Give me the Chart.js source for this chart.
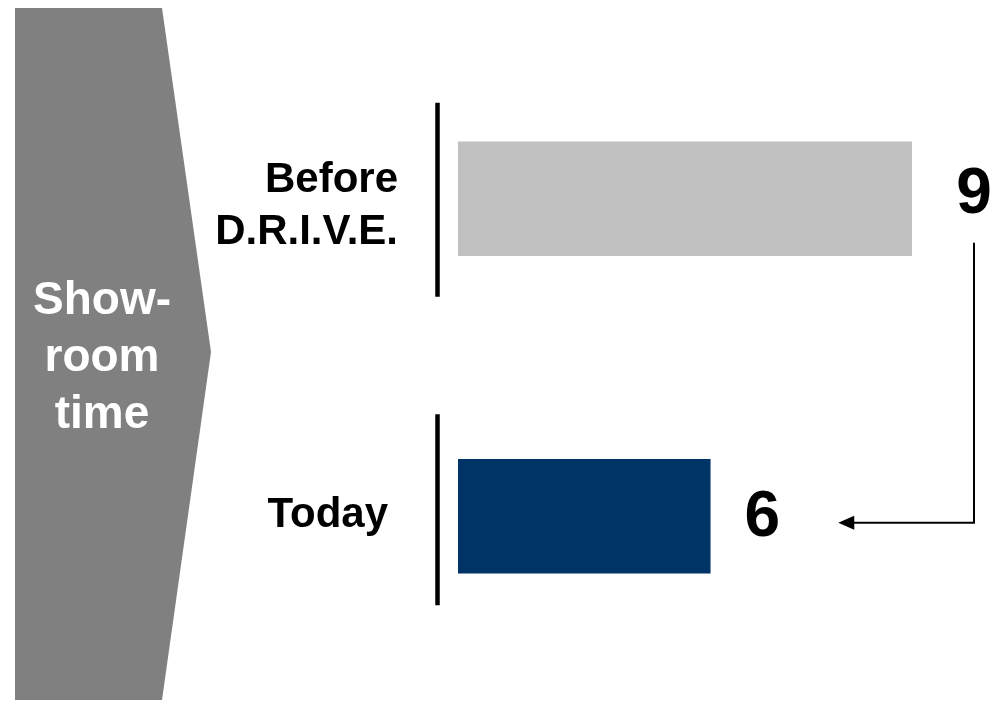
<!DOCTYPE html>
<html>
<head>
<meta charset="utf-8">
<script src="https://cdn.jsdelivr.net/npm/chart.js@4/dist/chart.umd.min.js"></script>
<style>
  html, body { margin: 0; padding: 0; background: #ffffff; }
  #wrap { width: 994px; height: 701px; }
</style>
</head>
<body>
<div id="wrap"><canvas id="c" width="994" height="701"></canvas></div>
<script>
const categories = [["Before", "D.R.I.V.E."], ["Today"]];
const showroomValues = [9, 6];
const valueLabels = ["9", "6"];
const barColors = ["#C0C0C0", "#003366"];
const sideTitle = ["Show-", "room", "time"];

const FONT = "'Liberation Sans', Arial, Helvetica, sans-serif";

const decorPlugin = {
  id: 'decor',
  beforeDraw(chart) {
    const ctx = chart.ctx;
    ctx.save();
    ctx.fillStyle = '#ffffff';
    ctx.fillRect(0, 0, chart.width, chart.height);
    // chevron
    ctx.fillStyle = '#808080';
    ctx.beginPath();
    ctx.moveTo(15, 8);
    ctx.lineTo(162, 8);
    ctx.lineTo(211, 352);
    ctx.lineTo(162, 700);
    ctx.lineTo(15, 700);
    ctx.closePath();
    ctx.fill();
    ctx.fillStyle = '#ffffff';
    ctx.font = 'bold 46px ' + FONT;
    ctx.textAlign = 'center';
    ctx.textBaseline = 'alphabetic';
    sideTitle.forEach((t, i) => ctx.fillText(t, 102, 314 + i * 57));
    ctx.restore();
  },
  afterDatasetsDraw(chart) {
    const ctx = chart.ctx;
    const yScale = chart.scales.y;
    const meta = chart.getDatasetMeta(0);
    ctx.save();
    // category labels
    ctx.fillStyle = '#000000';
    ctx.font = 'bold 42px ' + FONT;
    ctx.textAlign = 'right';
    ctx.textBaseline = 'alphabetic';
    const rightGap = [60, 70];
    const shift = [4, -4];
    categories.forEach((lines, i) => {
      const cy = yScale.getPixelForValue(i);
      const n = lines.length;
      lines.forEach((t, j) => {
        const base = cy + 15 + (j - (n - 1) / 2) * 52 + shift[i];
        ctx.fillText(t, chart.chartArea.left - rightGap[i], base);
      });
    });
    // vertical separator lines per category
    ctx.strokeStyle = '#000000';
    ctx.lineWidth = 4.5;
    const lineX = chart.chartArea.left - 20.5;
    [[-96, 98], [-102, 89]].forEach((ext, i) => {
      const cy = yScale.getPixelForValue(i);
      ctx.beginPath();
      ctx.moveTo(lineX, cy + ext[0]);
      ctx.lineTo(lineX, cy + ext[1]);
      ctx.stroke();
    });
    // value labels
    ctx.font = 'bold 64px ' + FONT;
    ctx.textAlign = 'center';
    ctx.textBaseline = 'middle';
    const pos = [];
    meta.data.forEach((bar, i) => {
      const lx = bar.x + (i === 0 ? 62 : 52);
      const ly = bar.y + (i === 0 ? -3 : 2);
      ctx.fillText(valueLabels[i], lx, ly);
      pos.push({x: lx, y: ly, bar});
    });
    // arrow from "9" down to "6"
    const ax = pos[0].x;
    const topY = pos[0].y + 47;
    const ay = pos[1].bar.y + 6.5;
    const tipX = pos[1].x + 76;
    ctx.strokeStyle = '#000000';
    ctx.lineWidth = 2;
    ctx.beginPath();
    ctx.moveTo(ax, topY);
    ctx.lineTo(ax, ay);
    ctx.lineTo(tipX + 14, ay);
    ctx.stroke();
    ctx.beginPath();
    ctx.moveTo(tipX, ay);
    ctx.lineTo(tipX + 16, ay - 7);
    ctx.lineTo(tipX + 16, ay + 7);
    ctx.closePath();
    ctx.fill();
    ctx.restore();
  }
};

new Chart(document.getElementById('c'), {
  type: 'bar',
  data: {
    labels: categories,
    datasets: [{
      data: showroomValues,
      backgroundColor: barColors,
      borderWidth: 0,
      barThickness: 114
    }]
  },
  options: {
    indexAxis: 'y',
    responsive: false,
    animation: false,
    layout: { padding: { top: 40, bottom: 26, right: 82, left: 458 } },
    plugins: { legend: { display: false }, tooltip: { enabled: false } },
    scales: {
      x: { display: false, min: 2.25, max: 9 },
      y: { display: false }
    }
  },
  plugins: [decorPlugin]
});
</script>
</body>
</html>
